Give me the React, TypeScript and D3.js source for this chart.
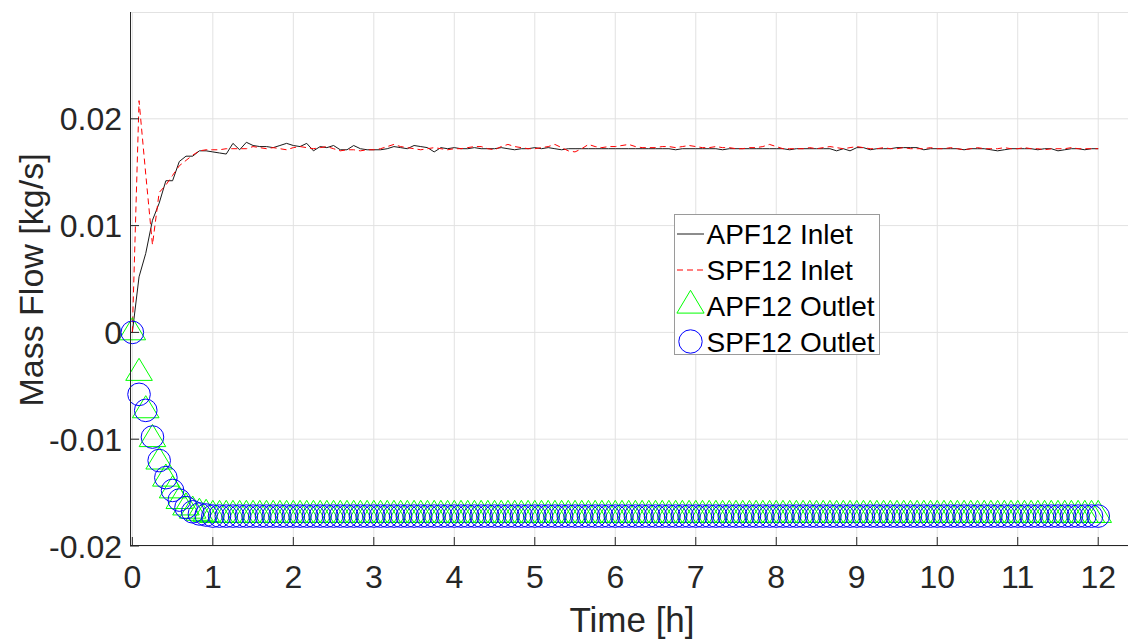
import React from "react";
import * as d3 from "d3";

// Sampling: one value every 5 minutes from 0 h to 12 h (145 samples)
const SAMPLE_STEP_H = 5 / 60;

const X_TICKS = [0, 1, 2, 3, 4, 5, 6, 7, 8, 9, 10, 11, 12];
const Y_TICKS = [-0.02, -0.01, 0, 0.01, 0.02];
const Y_TICK_LABELS = ["-0.02", "-0.01", "0", "0.01", "0.02"];

const SERIES_NAMES = ["APF12 Inlet", "SPF12 Inlet", "APF12 Outlet", "SPF12 Outlet"];

const APF12_INLET = [
  0, 0.0052, 0.0074, 0.0105, 0.0121, 0.0142, 0.0142, 0.0160, 0.0165, 0.0165, 0.0170, 0.0170,
  0.0169, 0.0168, 0.0167, 0.0177, 0.0171, 0.0178, 0.0175, 0.0174, 0.0174, 0.0173, 0.0175, 0.0177,
  0.0175, 0.0174, 0.0177, 0.0170, 0.0174, 0.0173, 0.0175, 0.0171, 0.0171, 0.0175, 0.0172, 0.0171,
  0.0171, 0.0171, 0.0172, 0.0174, 0.0173, 0.0172, 0.0175, 0.0174, 0.0173, 0.0169, 0.0173, 0.0172,
  0.0173, 0.0172, 0.0172, 0.0173, 0.0172, 0.0172, 0.0172, 0.0173, 0.0172, 0.0171, 0.0172, 0.0172,
  0.0173, 0.0172, 0.0173, 0.0172, 0.0171, 0.0172, 0.0172, 0.0172, 0.0172, 0.0172, 0.0172, 0.0172,
  0.0172, 0.0172, 0.0172, 0.0172, 0.0172, 0.0172, 0.0172, 0.0172, 0.0172, 0.0171, 0.0172, 0.0172,
  0.0172, 0.0172, 0.0172, 0.0172, 0.0171, 0.0172, 0.0172, 0.0172, 0.0172, 0.0172, 0.0172, 0.0172,
  0.0172, 0.0172, 0.0171, 0.0172, 0.0172, 0.0172, 0.0172, 0.0172, 0.0172, 0.0170, 0.0172, 0.0170,
  0.0173, 0.0173, 0.0171, 0.0172, 0.0172, 0.0172, 0.0173, 0.0173, 0.0173, 0.0173, 0.0171, 0.0172,
  0.0172, 0.0172, 0.0172, 0.0172, 0.0171, 0.0172, 0.0172, 0.0172, 0.0171, 0.0170, 0.0171, 0.0172,
  0.0172, 0.0172, 0.0172, 0.0171, 0.0172, 0.0172, 0.0170, 0.0171, 0.0172, 0.0172, 0.0171, 0.0172,
  0.0172,
];

const SPF12_INLET = [
  0, 0.0217, 0.0148, 0.0082, 0.0131, 0.0138, 0.0147, 0.0156, 0.0161, 0.0166, 0.0170, 0.0171,
  0.0171, 0.0171, 0.0172, 0.0172, 0.0172, 0.0172, 0.0174, 0.0173, 0.0172, 0.0173, 0.0172, 0.0171,
  0.0173, 0.0174, 0.0173, 0.0172, 0.0173, 0.0174, 0.0172, 0.0170, 0.0171, 0.0171, 0.0170, 0.0171,
  0.0171, 0.0172, 0.0174, 0.0176, 0.0174, 0.0173, 0.0172, 0.0171, 0.0172, 0.0173, 0.0172, 0.0171,
  0.0172, 0.0172, 0.0173, 0.0174, 0.0174, 0.0172, 0.0171, 0.0174, 0.0176, 0.0174, 0.0173, 0.0172,
  0.0172, 0.0173, 0.0174, 0.0176, 0.0173, 0.0170, 0.0169, 0.0172, 0.0176, 0.0174, 0.0173, 0.0174,
  0.0174, 0.0175, 0.0176, 0.0174, 0.0173, 0.0173, 0.0173, 0.0174, 0.0174, 0.0173, 0.0174, 0.0175,
  0.0174, 0.0173, 0.0173, 0.0174, 0.0173, 0.0173, 0.0172, 0.0172, 0.0173, 0.0173, 0.0174, 0.0176,
  0.0174, 0.0172, 0.0172, 0.0172, 0.0172, 0.0173, 0.0172, 0.0173, 0.0174, 0.0173, 0.0172, 0.0173,
  0.0174, 0.0173, 0.0172, 0.0172, 0.0173, 0.0172, 0.0172, 0.0173, 0.0172, 0.0172, 0.0172, 0.0173,
  0.0172, 0.0172, 0.0173, 0.0172, 0.0171, 0.0172, 0.0173, 0.0172, 0.0172, 0.0172, 0.0173, 0.0172,
  0.0172, 0.0173, 0.0172, 0.0172, 0.0171, 0.0172, 0.0172, 0.0172, 0.0173, 0.0172, 0.0172, 0.0172,
  0.0172,
];

const APF12_OUTLET = [
  0, -0.0038, -0.0073, -0.0100, -0.0121, -0.0137, -0.0148, -0.0158, -0.0164, -0.0167, -0.0169, -0.0170,
  -0.0171, -0.0171, -0.0171, -0.0171, -0.0171, -0.0171, -0.0171, -0.0171, -0.0171, -0.0171, -0.0171, -0.0171,
  -0.0171, -0.0171, -0.0171, -0.0171, -0.0171, -0.0171, -0.0171, -0.0171, -0.0171, -0.0171, -0.0171, -0.0171,
  -0.0171, -0.0171, -0.0171, -0.0171, -0.0171, -0.0171, -0.0171, -0.0171, -0.0171, -0.0171, -0.0171, -0.0171,
  -0.0171, -0.0171, -0.0171, -0.0171, -0.0171, -0.0171, -0.0171, -0.0171, -0.0171, -0.0171, -0.0171, -0.0171,
  -0.0171, -0.0171, -0.0171, -0.0171, -0.0171, -0.0171, -0.0171, -0.0171, -0.0171, -0.0171, -0.0171, -0.0171,
  -0.0171, -0.0171, -0.0171, -0.0171, -0.0171, -0.0171, -0.0171, -0.0171, -0.0171, -0.0171, -0.0171, -0.0171,
  -0.0171, -0.0171, -0.0171, -0.0171, -0.0171, -0.0171, -0.0171, -0.0171, -0.0171, -0.0171, -0.0171, -0.0171,
  -0.0171, -0.0171, -0.0171, -0.0171, -0.0171, -0.0171, -0.0171, -0.0171, -0.0171, -0.0171, -0.0171, -0.0171,
  -0.0171, -0.0171, -0.0171, -0.0171, -0.0171, -0.0171, -0.0171, -0.0171, -0.0171, -0.0171, -0.0171, -0.0171,
  -0.0171, -0.0171, -0.0171, -0.0171, -0.0171, -0.0171, -0.0171, -0.0171, -0.0171, -0.0171, -0.0171, -0.0171,
  -0.0171, -0.0171, -0.0171, -0.0171, -0.0171, -0.0171, -0.0171, -0.0171, -0.0171, -0.0171, -0.0171, -0.0171,
  -0.0171,
];

const SPF12_OUTLET = [
  0, -0.0058, -0.0073, -0.0098, -0.0120, -0.0136, -0.0148, -0.0157, -0.0164, -0.0168, -0.0170, -0.0171,
  -0.0172, -0.0172, -0.0172, -0.0172, -0.0172, -0.0172, -0.0172, -0.0172, -0.0172, -0.0172, -0.0172, -0.0172,
  -0.0172, -0.0172, -0.0172, -0.0172, -0.0172, -0.0172, -0.0172, -0.0172, -0.0172, -0.0172, -0.0172, -0.0172,
  -0.0172, -0.0172, -0.0172, -0.0172, -0.0172, -0.0172, -0.0172, -0.0172, -0.0172, -0.0172, -0.0172, -0.0172,
  -0.0172, -0.0172, -0.0172, -0.0172, -0.0172, -0.0172, -0.0172, -0.0172, -0.0172, -0.0172, -0.0172, -0.0172,
  -0.0172, -0.0172, -0.0172, -0.0172, -0.0172, -0.0172, -0.0172, -0.0172, -0.0172, -0.0172, -0.0172, -0.0172,
  -0.0172, -0.0172, -0.0172, -0.0172, -0.0172, -0.0172, -0.0172, -0.0172, -0.0172, -0.0172, -0.0172, -0.0172,
  -0.0172, -0.0172, -0.0172, -0.0172, -0.0172, -0.0172, -0.0172, -0.0172, -0.0172, -0.0172, -0.0172, -0.0172,
  -0.0172, -0.0172, -0.0172, -0.0172, -0.0172, -0.0172, -0.0172, -0.0172, -0.0172, -0.0172, -0.0172, -0.0172,
  -0.0172, -0.0172, -0.0172, -0.0172, -0.0172, -0.0172, -0.0172, -0.0172, -0.0172, -0.0172, -0.0172, -0.0172,
  -0.0172, -0.0172, -0.0172, -0.0172, -0.0172, -0.0172, -0.0172, -0.0172, -0.0172, -0.0172, -0.0172, -0.0172,
  -0.0172, -0.0172, -0.0172, -0.0172, -0.0172, -0.0172, -0.0172, -0.0172, -0.0172, -0.0172, -0.0172, -0.0172,
  -0.0172,
];

const W = 1128;
const H = 642;
const PLOT = { left: 130, right: 1128, top: 12, bottom: 546 };
const FONT = "'Liberation Sans', Arial, Helvetica, sans-serif";
const AXIS_COLOR = "#262626";
const GRID_COLOR = "#e2e2e2";

const toPoints = (vals: number[]) => vals.map((v, i) => [i * SAMPLE_STEP_H, v] as [number, number]);

const TRI = "M0,-14.7L13.3,7.4L-13.3,7.4Z";
const TRI_LEG = "M0,-15.2L13.6,7.6L-13.6,7.6Z";

export default function App() {
  const x = d3.scaleLinear().domain([-0.029, 12.37]).range([PLOT.left, PLOT.right]);
  const y = d3.scaleLinear().domain([-0.02, 0.03]).range([PLOT.bottom, PLOT.top]);
  const line = d3
    .line<[number, number]>()
    .x((d) => x(d[0]))
    .y((d) => y(d[1]));

  const apfIn = toPoints(APF12_INLET);
  const spfIn = toPoints(SPF12_INLET);
  const apfOut = toPoints(APF12_OUTLET);
  const spfOut = toPoints(SPF12_OUTLET);

  const legX = 674;
  const legY = 214;
  const legW = 205;
  const legH = 140;
  const rows = [234, 270, 305.5, 341.5];

  return (
    <svg
      width={W}
      height={H}
      style={{ position: "absolute", left: 0, top: 0, background: "#fff" }}
      fontFamily={FONT}
    >
      <rect x={0} y={0} width={W} height={H} fill="#fff" />
      {/* grid */}
      <g>
        {X_TICKS.map((t) => (
          <line key={"gx" + t} x1={x(t)} x2={x(t)} y1={PLOT.top} y2={PLOT.bottom} stroke={GRID_COLOR} strokeWidth={1} />
        ))}
        {Y_TICKS.map((t) => (
          <line key={"gy" + t} x1={PLOT.left} x2={PLOT.right} y1={y(t)} y2={y(t)} stroke={GRID_COLOR} strokeWidth={1} />
        ))}
        <line x1={PLOT.left} x2={PLOT.right} y1={PLOT.top + 0.5} y2={PLOT.top + 0.5} stroke={GRID_COLOR} strokeWidth={1} />
      </g>

      {/* series */}
      <path d={line(apfIn) || ""} fill="none" stroke="#1a1a1a" strokeWidth={1} />
      <path d={line(spfIn) || ""} fill="none" stroke="#ff0000" strokeWidth={1} strokeDasharray="6,4" />
      <g>
        {apfOut.map((d, i) => (
          <path key={"a" + i} d={TRI} transform={`translate(${x(d[0])},${y(d[1])})`} fill="none" stroke="#00ff00" strokeWidth={1} />
        ))}
      </g>
      <g>
        {spfOut.map((d, i) => (
          <circle key={"s" + i} cx={x(d[0])} cy={y(d[1])} r={11.3} fill="none" stroke="#0000ff" strokeWidth={1} />
        ))}
      </g>

      {/* axes */}
      <line x1={PLOT.left + 0.5} x2={PLOT.left + 0.5} y1={PLOT.top} y2={PLOT.bottom} stroke={AXIS_COLOR} strokeWidth={1} />
      <line x1={PLOT.left} x2={PLOT.right} y1={PLOT.bottom - 0.5} y2={PLOT.bottom - 0.5} stroke={AXIS_COLOR} strokeWidth={1} />
      {X_TICKS.map((t) => (
        <g key={"xt" + t}>
          <line x1={x(t)} x2={x(t)} y1={PLOT.bottom} y2={PLOT.bottom - 9} stroke={AXIS_COLOR} strokeWidth={1} />
          <text x={x(t)} y={588} textAnchor="middle" fontSize={32} fill={AXIS_COLOR}>
            {t}
          </text>
        </g>
      ))}
      {Y_TICKS.map((t, i) => (
        <g key={"yt" + t}>
          <line x1={PLOT.left} x2={PLOT.left + 9} y1={y(t)} y2={y(t)} stroke={AXIS_COLOR} strokeWidth={1} />
          <text x={122} y={y(t)} dy="0.36em" textAnchor="end" fontSize={32} fill={AXIS_COLOR}>
            {Y_TICK_LABELS[i]}
          </text>
        </g>
      ))}
      <text x={632} y={632} textAnchor="middle" fontSize={35} fill={AXIS_COLOR}>
        Time [h]
      </text>
      <text transform="translate(43,280) rotate(-90)" textAnchor="middle" fontSize={34} fill={AXIS_COLOR}>
        Mass Flow [kg/s]
      </text>

      {/* legend */}
      <rect x={legX + 0.5} y={legY + 0.5} width={legW} height={legH} fill="#fff" stroke="#9a9a9a" strokeWidth={1} />
      <line x1={677} x2={704} y1={rows[0]} y2={rows[0]} stroke="#1a1a1a" strokeWidth={1} />
      <line x1={677} x2={704} y1={rows[1]} y2={rows[1]} stroke="#ff0000" strokeWidth={1} strokeDasharray="6,4" />
      <path d={TRI_LEG} transform={`translate(690.5,${rows[2]})`} fill="none" stroke="#00ff00" strokeWidth={1} />
      <circle cx={690.5} cy={rows[3]} r={11.7} fill="none" stroke="#0000ff" strokeWidth={1} />
      {SERIES_NAMES.map((n, i) => (
        <text key={n} x={706.5} y={rows[i]} dy="0.36em" fontSize={28} fill="#000">
          {n}
        </text>
      ))}
    </svg>
  );
}
